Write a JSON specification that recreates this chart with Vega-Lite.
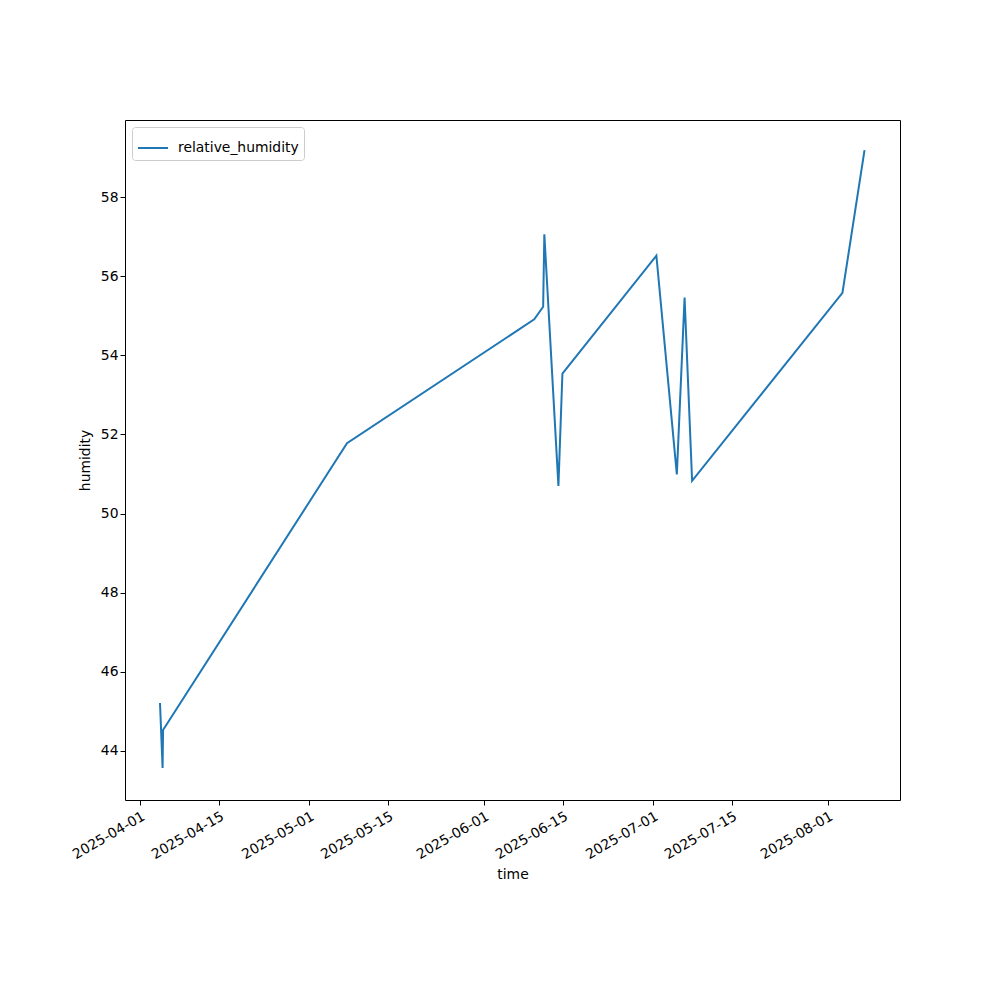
{
  "$schema": "https://vega.github.io/schema/vega-lite/v6.json",
  "width": 775,
  "height": 680,
  "autosize": {"type": "none"},
  "padding": {"left": 125, "top": 120, "right": 100, "bottom": 200},
  "background": "white",
  "config": {
    "font": "DejaVu Sans",
    "view": {"stroke": "black", "strokeWidth": 1},
    "axis": {"grid": false, "domain": false, "tickColor": "black", "tickSize": 5, "labelColor": "black", "labelFontSize": 13.9, "titleFontSize": 13.9, "titleFontWeight": "normal", "titleColor": "black", "labelFont": "DejaVu Sans", "titleFont": "DejaVu Sans"}
  },
  "data": {
    "values": [
      {"time": "2025-04-04T13:00:00", "humidity": 45.21},
      {"time": "2025-04-05T00:00:00", "humidity": 43.57},
      {"time": "2025-04-05T02:00:00", "humidity": 44.53},
      {"time": "2025-05-07T17:00:00", "humidity": 51.78},
      {"time": "2025-06-09T22:00:00", "humidity": 54.91},
      {"time": "2025-06-11T12:00:00", "humidity": 55.23},
      {"time": "2025-06-11T17:00:00", "humidity": 57.06},
      {"time": "2025-06-14T05:00:00", "humidity": 50.70},
      {"time": "2025-06-14T22:00:00", "humidity": 53.54},
      {"time": "2025-07-01T14:00:00", "humidity": 56.52},
      {"time": "2025-07-05T05:00:00", "humidity": 50.99},
      {"time": "2025-07-06T14:00:00", "humidity": 55.46},
      {"time": "2025-07-07T22:00:00", "humidity": 50.83},
      {"time": "2025-08-03T14:00:00", "humidity": 55.58},
      {"time": "2025-08-07T12:00:00", "humidity": 59.19}
    ]
  },
  "mark": {"type": "line", "strokeWidth": 2, "clip": true},
  "encoding": {
    "x": {
      "field": "time",
      "type": "temporal",
      "title": "time",
      "scale": {"domain": ["2025-03-29T08:00:00", "2025-08-13T19:00:00"], "nice": false},
      "axis": {
        "values": ["2025-04-01T00:00:00", "2025-04-15T00:00:00", "2025-05-01T00:00:00", "2025-05-15T00:00:00", "2025-06-01T00:00:00", "2025-06-15T00:00:00", "2025-07-01T00:00:00", "2025-07-15T00:00:00", "2025-08-01T00:00:00"],
        "format": "%Y-%m-%d",
        "labelAngle": -30,
        "labelAlign": "right",
        "labelBaseline": "top",
        "labelPadding": 4,
        "titlePadding": 6
      }
    },
    "y": {
      "field": "humidity",
      "type": "quantitative",
      "title": "humidity",
      "scale": {"domain": [42.76, 59.95], "nice": false, "zero": false},
      "axis": {"values": [44, 46, 48, 50, 52, 54, 56, 58], "titlePadding": 8}
    },
    "color": {
      "datum": "relative_humidity",
      "type": "nominal",
      "scale": {"range": ["#1f77b4"]},
      "legend": {
        "title": null,
        "orient": "top-left",
        "offset": 7,
        "symbolType": "stroke",
        "symbolStrokeWidth": 2,
        "symbolSize": 900,
        "labelFontSize": 13.9,
        "labelColor": "black",
        "labelOffset": 9,
        "strokeColor": "#cccccc",
        "padding": 5,
        "cornerRadius": 3,
        "fillColor": "white"
      }
    }
  }
}
